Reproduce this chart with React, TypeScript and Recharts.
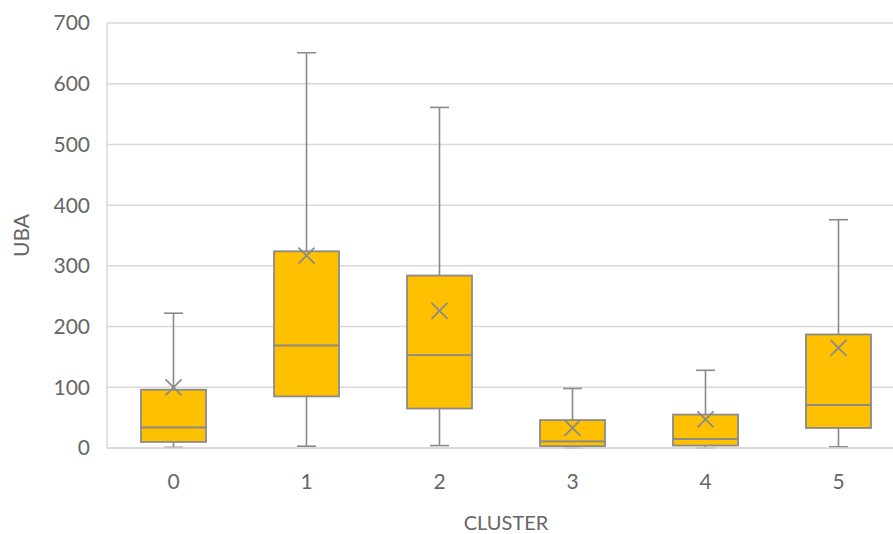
import { ComposedChart, Bar, Scatter, XAxis, YAxis, CartesianGrid } from 'recharts';

const clusters = ['0', '1', '2', '3', '4', '5'];
const mins = [1, 3, 4, 0, 0, 2];
const q1s = [10, 85, 65, 3, 4, 33];
const medians = [34, 169, 153, 11, 15, 71];
const q3s = [96, 324, 284, 46, 55, 187];
const maxs = [222, 651, 561, 98, 128, 376];
const means = [100, 317, 226, 33, 47, 165];
const yTicks = [0, 100, 200, 300, 400, 500, 600, 700];

const data = clusters.map((c, i) => ({
  cluster: c,
  base: mins[i],
  lowWhisker: q1s[i] - mins[i],
  lowBox: medians[i] - q1s[i],
  highBox: q3s[i] - medians[i],
  highWhisker: maxs[i] - q3s[i],
  mean: means[i],
}));

const lineColor = '#8a8a8a';
const textColor = '#666666';
const font = 'Lato, "DejaVu Sans", sans-serif';

const LowWhisker = (props: any) => {
  const { x, y, width, height } = props;
  const cx = x + width / 2;
  const bottom = y + height;
  return (
    <g>
      <line x1={cx} x2={cx} y1={y} y2={bottom} stroke={lineColor} strokeWidth={1.6} />
      <line x1={cx - 9.5} x2={cx + 9.5} y1={bottom} y2={bottom} stroke={lineColor} strokeWidth={1.6} />
    </g>
  );
};

const HighWhisker = (props: any) => {
  const { x, y, width, height } = props;
  const cx = x + width / 2;
  return (
    <g>
      <line x1={cx} x2={cx} y1={y} y2={y + height} stroke={lineColor} strokeWidth={1.6} />
      <line x1={cx - 9.5} x2={cx + 9.5} y1={y} y2={y} stroke={lineColor} strokeWidth={1.6} />
    </g>
  );
};

const BoxPart = (props: any) => {
  const { x, y, width, height } = props;
  return <rect x={x} y={y} width={width} height={height} fill="#FFC000" stroke={lineColor} strokeWidth={1.8} />;
};

const MeanMark = (props: any) => {
  const { cx, cy } = props;
  const s = 8;
  return (
    <g>
      <line x1={cx - s} x2={cx + s} y1={cy - s} y2={cy + s} stroke={lineColor} strokeWidth={1.8} />
      <line x1={cx - s} x2={cx + s} y1={cy + s} y2={cy - s} stroke={lineColor} strokeWidth={1.8} />
    </g>
  );
};

export default function App() {
  return (
    <div style={{ position: 'absolute', left: 0, top: 0, width: 893, height: 534, overflow: 'hidden', background: '#fff' }}>
      <ComposedChart
        width={912}
        height={534}
        data={data}
        margin={{ top: 23, right: 7, left: 0, bottom: 0 }}
        style={{ fontFamily: font }}
      >
        <CartesianGrid vertical={false} stroke="#d9d9d9" strokeWidth={1.5} />
        <XAxis
          dataKey="cluster"
          height={86}
          axisLine={{ stroke: '#d9d9d9', strokeWidth: 1.5 }}
          tickLine={false}
          tickSize={0}
          tickMargin={26}
          tick={{ fill: textColor, fontSize: 21 }}
          label={{ value: 'CLUSTER', position: 'insideBottom', offset: 4, fill: textColor, fontSize: 20 }}
        />
        <YAxis
          width={107}
          domain={[0, 700]}
          ticks={yTicks}
          axisLine={{ stroke: '#d9d9d9', strokeWidth: 1.5 }}
          tickLine={false}
          tickSize={0}
          tickMargin={17}
          tick={{ fill: textColor, fontSize: 21 }}
          label={{ value: 'UBA', angle: -90, position: 'insideLeft', offset: 22, fill: textColor, fontSize: 21, style: { textAnchor: 'middle' } }}
        />
        <Bar dataKey="base" stackId="box" fill="transparent" barSize={65} isAnimationActive={false} />
        <Bar dataKey="lowWhisker" stackId="box" shape={LowWhisker} barSize={65} isAnimationActive={false} />
        <Bar dataKey="lowBox" stackId="box" shape={BoxPart} barSize={65} isAnimationActive={false} />
        <Bar dataKey="highBox" stackId="box" shape={BoxPart} barSize={65} isAnimationActive={false} />
        <Bar dataKey="highWhisker" stackId="box" shape={HighWhisker} barSize={65} isAnimationActive={false} />
        <Scatter dataKey="mean" shape={MeanMark} isAnimationActive={false} />
      </ComposedChart>
    </div>
  );
}
